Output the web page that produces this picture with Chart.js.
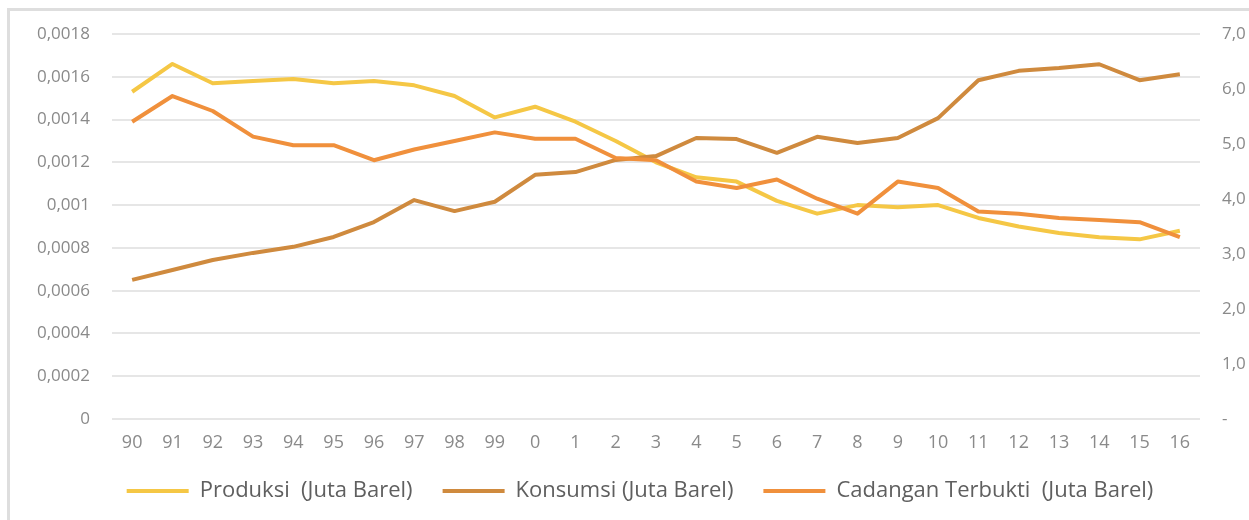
<!DOCTYPE html>
<html>
<head>
<meta charset="utf-8">
<script src="https://cdn.jsdelivr.net/npm/chart.js@4"></script>
<style>
  html, body { margin: 0; padding: 0; background: #fff; }
  .wrap { position: relative; width: 1249px; height: 520px; overflow: hidden; }
  .frame {
    position: absolute; left: 7px; top: 8px; width: 1260px; height: 540px;
    border-left: 3px solid #dedede; border-top: 3px solid #dedede;
  }
  canvas { position: absolute; left: 0; top: 0; }
</style>
</head>
<body>
<div class="wrap">
  <div class="frame"></div>
  <canvas id="chart" width="1249" height="520"></canvas>
</div>
<script>
// years 1990 - 2016, shown as two-digit labels
const YEARS = ['90','91','92','93','94','95','96','97','98','99',
               '0','1','2','3','4','5','6','7','8','9','10','11','12','13','14','15','16'];

// left axis
const PRODUKSI = [0.00153, 0.00166, 0.00157, 0.00158, 0.00159, 0.00157, 0.00158, 0.00156, 0.00151,
                  0.00141, 0.00146, 0.00139, 0.00130, 0.00120, 0.00113, 0.00111, 0.00102, 0.00096,
                  0.00100, 0.00099, 0.00100, 0.00094, 0.00090, 0.00087, 0.00085, 0.00084, 0.00088];
const CADANGAN = [0.00139, 0.00151, 0.00144, 0.00132, 0.00128, 0.00128, 0.00121, 0.00126, 0.00130,
                  0.00134, 0.00131, 0.00131, 0.00122, 0.00121, 0.00111, 0.00108, 0.00112, 0.00103,
                  0.00096, 0.00111, 0.00108, 0.00097, 0.00096, 0.00094, 0.00093, 0.00092, 0.00085];
// right axis
const KONSUMSI = [2.53, 2.71, 2.89, 3.02, 3.13, 3.31, 3.58, 3.98, 3.78, 3.95, 4.44, 4.49, 4.71, 4.78,
                  5.11, 5.09, 4.84, 5.13, 5.02, 5.11, 5.47, 6.16, 6.33, 6.38, 6.45, 6.16, 6.27];

const LABELS = {
  produksi: 'Produksi  (Juta Barel)',
  konsumsi: 'Konsumsi (Juta Barel)',
  cadangan: 'Cadangan Terbukti  (Juta Barel)',
};
const COLORS = { produksi: '#f5c745', konsumsi: '#cf8a3e', cadangan: '#f0903c' };

const TICK_COLOR = '#8a8a8a';
const FONT = '"Open Sans", Lato, sans-serif';

function line(key, data, axis, order) {
  return {
    label: LABELS[key],
    data,
    yAxisID: axis,
    order,
    borderColor: COLORS[key],
    backgroundColor: COLORS[key],
    borderWidth: 4,
    pointRadius: 0,
    tension: 0,
    borderJoinStyle: 'round',
    fill: false,
  };
}

// "0,0018" style labels, comma as decimal separator
const leftTick = v => v === 0 ? '0' : String(Number(v.toFixed(4))).replace('.', ',');
const rightTick = v => v === 0 ? '-' : v.toFixed(1).replace('.', ',');

new Chart(document.getElementById('chart'), {
  type: 'line',
  data: {
    labels: YEARS,
    datasets: [
      line('produksi', PRODUKSI, 'y', 3),
      line('konsumsi', KONSUMSI, 'y1', 2),
      line('cadangan', CADANGAN, 'y', 1),
    ],
  },
  options: {
    responsive: false,
    animation: false,
    layout: { padding: { left: 31, right: 0, top: 34, bottom: 8 } },
    scales: {
      x: {
        offset: true,
        grid: { display: false, drawTicks: false },
        border: { display: false },
        ticks: { color: TICK_COLOR, font: { family: FONT, size: 18 }, padding: 13, maxRotation: 0, autoSkip: false },
        afterFit: s => { s.height = 31; },
      },
      y: {
        position: 'left',
        min: 0,
        max: 0.0018,
        border: { display: false },
        grid: { color: '#e6e6e6', lineWidth: 2, drawTicks: false },
        ticks: { stepSize: 0.0002, color: TICK_COLOR, font: { family: FONT, size: 17 }, padding: 22, callback: leftTick },
        afterFit: s => { s.width = 81; },
      },
      y1: {
        position: 'right',
        min: 0,
        max: 7,
        border: { display: false },
        grid: { display: false, drawTicks: false },
        ticks: { stepSize: 1, color: TICK_COLOR, font: { family: FONT, size: 17 }, padding: 22, callback: rightTick },
        afterFit: s => { s.width = 49; },
      },
    },
    plugins: {
      legend: {
        position: 'bottom',
        labels: {
          color: '#5f5f5f',
          font: { family: FONT, size: 22 },
          usePointStyle: true,
          pointStyle: 'line',
          pointStyleWidth: 62,
          boxHeight: 22,
          padding: 30,
          sort: (a, b) => a.datasetIndex - b.datasetIndex,
        },
      },
      tooltip: { enabled: false },
    },
  },
});
</script>
</body>
</html>
